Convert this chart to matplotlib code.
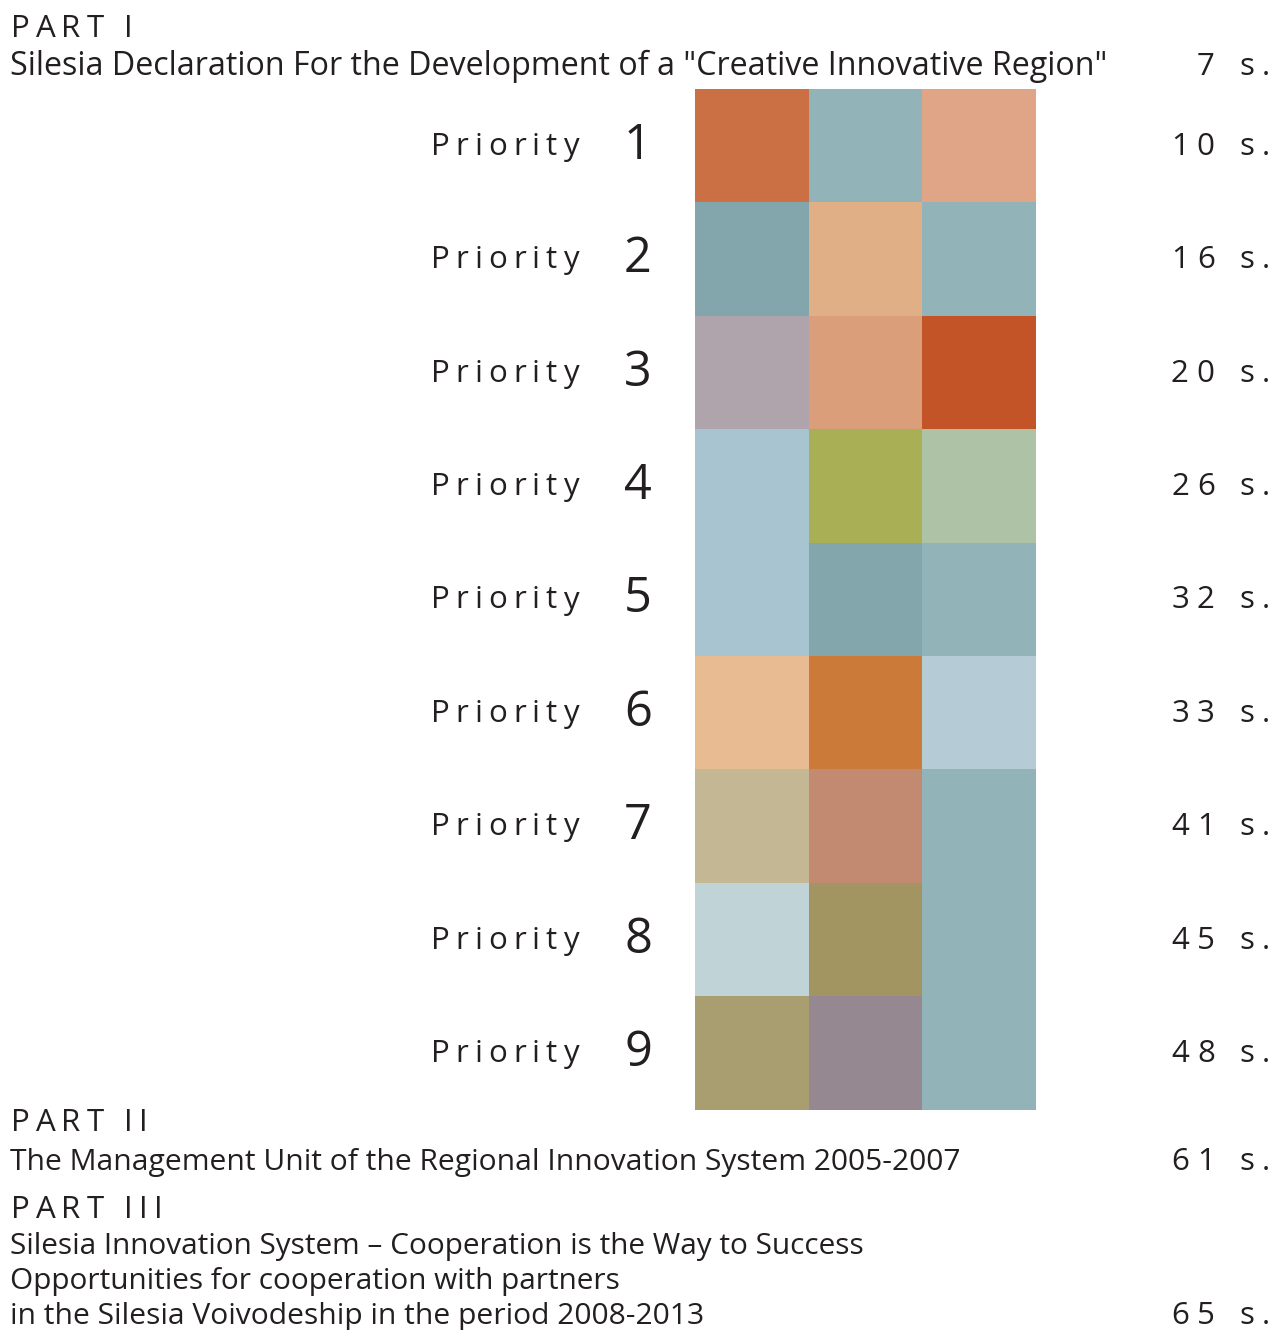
import matplotlib
matplotlib.use("Agg")
import matplotlib.pyplot as plt
import numpy as np
from matplotlib.colors import to_rgb

# ---------------- data ----------------
part_titles = ["PART I", "PART II", "PART III"]
part_lines = [
    ['Silesia Declaration For the Development of a "Creative Innovative Region"'],
    ["The Management Unit of the Regional Innovation System 2005-2007"],
    ["Silesia Innovation System \u2013 Cooperation is the Way to Success",
     "Opportunities for cooperation with partners",
     "in the Silesia Voivodeship in the period 2008-2013"],
]
part_pages = [7, 61, 65]

priority_label = "Priority"
priority_numbers = [1, 2, 3, 4, 5, 6, 7, 8, 9]
priority_pages = [10, 16, 20, 26, 32, 33, 41, 45, 48]

cell_colors = [
    ["#CB6F45", "#92B4B8", "#E0A587"],
    ["#82A6AB", "#E0AF85", "#92B4B8"],
    ["#AFA4AB", "#DA9E7A", "#C25428"],
    ["#A8C4D0", "#A9AF55", "#AEC3A5"],
    ["#A8C4D0", "#82A6AB", "#92B4B8"],
    ["#E8BB93", "#CB7A3A", "#B5CBD5"],
    ["#C3B794", "#C28A70", "#92B4B8"],
    ["#C0D3D7", "#A39562", "#92B4B8"],
    ["#A99E70", "#968891", "#92B4B8"],
]

# ---------------- style ----------------
W, H, DPI = 1281, 1330, 100
FONT = ["Open Sans", "DejaVu Sans"]
INK = "#231f20"
FS_TEXT = 22.5
FS_NUM = 35
line_sizes = [[23.2], [21.6], [21.4, 21.4, 21.6]]

fig = plt.figure(figsize=(W / DPI, H / DPI), dpi=DPI)
fig.patch.set_facecolor("white")

# full-figure overlay in pixel units (y downwards)
ax0 = fig.add_axes([0, 0, 1, 1])
ax0.set_xlim(0, W)
ax0.set_ylim(H, 0)
ax0.axis("off")

# grid of coloured cells
gl, gr, gt, gb = 695, 1036, 89, 1110
axg = fig.add_axes([gl / W, 1 - gb / H, (gr - gl) / W, (gb - gt) / H])
rgb = np.array([[to_rgb(c) for c in row] for row in cell_colors])
axg.imshow(rgb, aspect="auto", interpolation="nearest")
axg.axis("off")

renderer = fig.canvas.get_renderer()


def text_w(s, size):
    t = ax0.text(0, 0, s, fontsize=size, family=FONT)
    w = t.get_window_extent(renderer).width
    t.remove()
    return w


def char_w(ch, size):
    if ch == " ":
        return text_w("x x", size) - text_w("xx", size)
    return text_w(ch, size)


def tracked(x, y, s, size, track, ha="left"):
    widths = [char_w(c, size) for c in s]
    total = sum(widths) + track * (len(s) - 1)
    if ha == "right":
        x = x - total
    elif ha == "center":
        x = x - total / 2
    for c, w in zip(s, widths):
        if c != " ":
            ax0.text(x, y, c, fontsize=size, family=FONT, color=INK,
                     ha="left", va="baseline")
        x += w + track


def row_center_px(i):
    # row center in figure pixels (from top), via the grid axes transform
    disp = axg.transData.transform((0, i))
    return H - disp[1]


PAGE_RIGHT = 1270

# priorities
for i, (n, p) in enumerate(zip(priority_numbers, priority_pages)):
    yc = row_center_px(i)
    tracked(431, yc + 9, priority_label, FS_TEXT, 6.0)
    ax0.text(638, yc + 13, str(n), fontsize=FS_NUM, family=FONT, color=INK,
             ha="center", va="baseline")
    tracked(PAGE_RIGHT, yc + 9, f"{p} s.", FS_TEXT, 8.0, ha="right")

# parts
title_base = [37, 1131, 1218]
line_base = [[75], [1170], [1254, 1289, 1324]]
for t, lines, pg, tb, lbs, szs in zip(part_titles, part_lines, part_pages,
                                       title_base, line_base, line_sizes):
    tracked(11, tb, t, FS_TEXT, 6.0)
    for ln, lb, sz in zip(lines, lbs, szs):
        ax0.text(10, lb, ln, fontsize=sz, family=FONT, color=INK,
                 ha="left", va="baseline")
    tracked(PAGE_RIGHT, lbs[-1], f"{pg} s.", FS_TEXT, 8.0, ha="right")

fig.savefig("out.png", dpi=DPI, facecolor="white")
